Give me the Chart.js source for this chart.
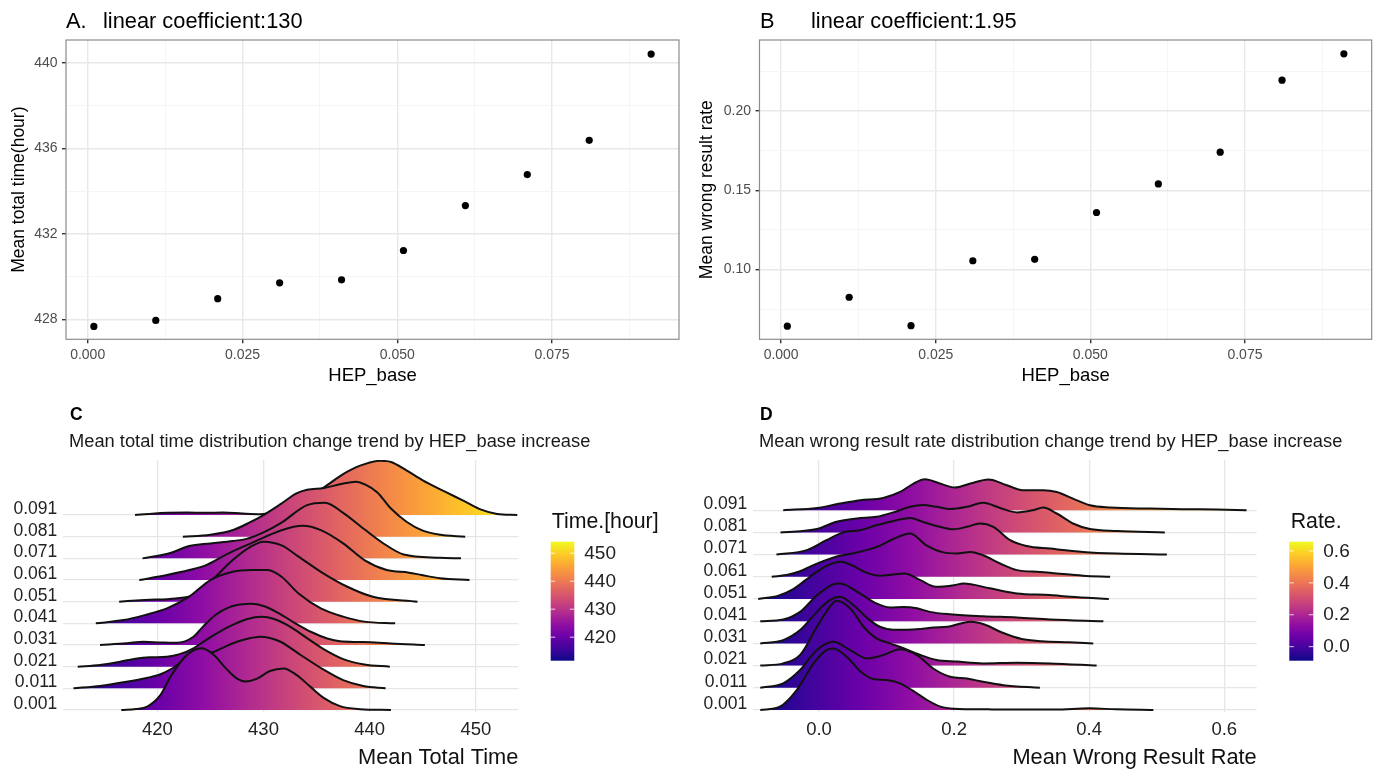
<!DOCTYPE html>
<html>
<head>
<meta charset="utf-8">
<script src="https://cdn.jsdelivr.net/npm/chart.js@4.4.1/dist/chart.umd.min.js"></script>
<style>
  body { margin: 0; background: #fff; width: 1378px; height: 774px; position: relative; overflow: hidden; font-family: "Liberation Sans", Arial, sans-serif; }
  canvas { position: absolute; }
  .t { position: absolute; white-space: nowrap; line-height: 1; color: #000; }
</style>
</head>
<body>
<canvas id="chartA" width="690" height="390" style="left:0;top:0"></canvas>
<canvas id="chartB" width="688" height="390" style="left:690px;top:0"></canvas>
<canvas id="chartC" width="690" height="384" style="left:0;top:390px"></canvas>
<canvas id="chartD" width="688" height="384" style="left:690px;top:390px"></canvas>

<div class="t" style="left:66px;top:9.5px;font-size:21.8px">A.</div>
<div class="t" style="left:103px;top:9.5px;font-size:21.8px">linear coefficient:130</div>
<div class="t" style="left:760px;top:9.5px;font-size:21.8px">B</div>
<div class="t" style="left:811px;top:9.5px;font-size:21.8px">linear coefficient:1.95</div>
<div class="t" style="left:70px;top:405.5px;font-size:17.5px;font-weight:bold">C</div>
<div class="t" style="left:69px;top:432px;font-size:18.3px;color:#1a1a1a">Mean total time distribution change trend by HEP_base increase</div>
<div class="t" style="left:760px;top:405.5px;font-size:17.5px;font-weight:bold">D</div>
<div class="t" style="left:759px;top:432px;font-size:18.3px;color:#1a1a1a">Mean wrong result rate distribution change trend by HEP_base increase</div>

<script>
// ---- data ----
const hepBase = [0.001, 0.011, 0.021, 0.031, 0.041, 0.051, 0.061, 0.071, 0.081, 0.091];
const hepLabels = ["0.001", "0.011", "0.021", "0.031", "0.041", "0.051", "0.061", "0.071", "0.081", "0.091"];
const meanTime = [427.67, 427.95, 428.97, 429.71, 429.85, 431.22, 433.32, 434.77, 436.37, 440.4];
const meanWrong = [0.0644, 0.0826, 0.0647, 0.1056, 0.1065, 0.136, 0.154, 0.174, 0.2194, 0.236];

const hepTicks = [0, 0.025, 0.05, 0.075];
const hepMinor = [0.0125, 0.0375, 0.0625, 0.0875];
const timeTicks = [428, 432, 436, 440];
const timeMinor = [430, 434, 438];
const wrongTicks = [0.10, 0.15, 0.20];
const wrongMinor = [0.075, 0.125, 0.175, 0.225];
const timeAxisTicks = [420, 430, 440, 450];
const rateAxisTicks = [0, 0.2, 0.4, 0.6];

// ridge densities: [value, height in row spacings]
const C001 = [[416.6,0],[418,0.05],[419,0.15],[420.3,0.7],[421.2,1.5],[422.5,2.4],[423.4,2.75],[424.2,2.85],[425.3,2.55],[426.5,1.9],[427.5,1.45],[428.3,1.32],[429.4,1.45],[430.6,1.8],[431.9,1.92],[433.1,1.62],[434.4,1.08],[435.7,0.55],[437.2,0.18],[439.1,0.04],[442,0]];
const C011 = [[412.1,0],[414.6,0.11],[417.1,0.3],[419,0.48],[420.3,0.65],[421.5,0.95],[422.8,1.38],[424,1.55],[425.3,1.68],[426.5,1.95],[427.5,2.15],[428.6,2.3],[429.7,2.38],[430.6,2.32],[431.6,2.15],[433.5,1.54],[435.7,0.85],[437.5,0.38],[439.4,0.11],[441.5,0]];
const C021 = [[412.5,0],[414.6,0.08],[416.5,0.23],[418.1,0.38],[419.3,0.43],[420.9,0.46],[422.1,0.58],[423.4,0.85],[424.5,1.2],[425.8,1.6],[427.2,1.95],[428.5,2.2],[429.8,2.3],[431,2.2],[432.5,1.85],[434,1.35],[435.7,0.8],[437.5,0.35],[439.5,0.1],[441.9,0]];
const C031 = [[414.6,0],[417.1,0.08],[418.7,0.15],[420.3,0.12],[421.8,0.1],[423.4,0.38],[424.3,0.85],[425.5,1.4],[426.8,1.75],[428,1.88],[428.8,1.9],[430,1.8],[431.5,1.45],[433,1.0],[434.5,0.6],[436,0.3],[437.2,0.17],[439,0.14],[440.5,0.12],[442,0.07],[445.2,0]];
const C041 = [[414.2,0],[416.8,0.15],[418.8,0.38],[420.9,0.69],[423,1.23],[425,2.0],[427.1,2.38],[428.8,2.46],[430.4,2.46],[431.7,2.15],[433.3,1.38],[435.4,0.69],[437.5,0.31],[439.5,0.08],[442.4,0]];
const C051 = [[416.4,0],[418.8,0.08],[421.7,0.15],[423.4,0.3],[425,0.92],[427.1,1.92],[428.8,2.54],[430,2.77],[431.7,2.6],[433.3,2.08],[435.4,1.38],[437.9,0.69],[440.3,0.23],[444.5,0]];
const C061 = [[418.3,0],[420.9,0.23],[423,0.46],[424.6,0.69],[426.7,1.23],[428.8,1.69],[431.7,2.3],[433.7,2.5],[435.4,2.3],[437.5,1.69],[439.5,0.92],[441.6,0.46],[443.7,0.34],[444.9,0.23],[446.6,0.08],[449.4,0]];
const C071 = [[418.6,0],[421.3,0.26],[423,0.57],[425,0.69],[427.1,0.8],[428.4,0.9],[430,1.2],[431.7,1.65],[434.1,2.46],[435.8,2.57],[437.5,2.1],[439.5,1.34],[441.2,0.72],[443.2,0.18],[446.6,0.03],[448.6,0]];
const C081 = [[422.4,0],[425,0.09],[427.2,0.32],[428.7,0.66],[430,1.0],[431.6,1.5],[433.1,2.0],[434.1,2.17],[435.7,2.25],[437.3,2.43],[438.7,2.54],[439.6,2.4],[440.7,2.05],[442,1.3],[443.5,0.68],[445,0.28],[446.5,0.1],[449,0]];
const C091 = [[417.9,0],[419.5,0.06],[421,0.1],[422.8,0.12],[424.5,0.1],[426.2,0.12],[428,0.07],[429.7,0.04],[431.5,0.25],[433.5,0.7],[435.7,1.28],[437.5,1.89],[439.1,2.28],[441,2.5],[442,2.45],[443.5,2.05],[445,1.6],[447,1.1],[449,0.62],[450.5,0.25],[452,0.05],[453.9,0]];

const D001 = [[-0.087,0],[-0.058,0.15],[-0.033,0.9],[-0.008,2.1],[0.011,2.7],[0.021,2.77],[0.041,2.4],[0.061,1.75],[0.08,1.4],[0.1,1.35],[0.12,1.2],[0.14,0.85],[0.16,0.45],[0.18,0.15],[0.2,0.06],[0.25,0.03],[0.3,0.02],[0.35,0.02],[0.4,0.075],[0.44,0.03],[0.495,0]];
const D011 = [[-0.087,0],[-0.053,0.2],[-0.028,0.8],[-0.003,1.7],[0.021,2.07],[0.046,1.7],[0.071,1.32],[0.095,1.47],[0.12,1.74],[0.145,1.47],[0.169,0.87],[0.194,0.5],[0.219,0.42],[0.243,0.27],[0.273,0.12],[0.327,0]];
const D021 = [[-0.087,0],[-0.053,0.1],[-0.028,0.48],[-0.003,1.75],[0.016,2.65],[0.026,2.92],[0.046,2.58],[0.066,1.75],[0.085,1.23],[0.105,1.0],[0.125,0.78],[0.15,0.48],[0.174,0.25],[0.204,0.18],[0.243,0.1],[0.293,0.13],[0.342,0.1],[0.411,0]];
const D031 = [[-0.087,0],[-0.053,0.15],[-0.028,0.6],[-0.003,1.42],[0.016,1.95],[0.031,2.1],[0.051,1.72],[0.071,1.15],[0.09,0.75],[0.11,0.62],[0.13,0.62],[0.15,0.65],[0.17,0.72],[0.19,0.75],[0.21,0.9],[0.225,0.97],[0.245,0.85],[0.27,0.5],[0.3,0.2],[0.33,0.1],[0.37,0.05],[0.406,0]];
const D041 = [[-0.087,0],[-0.053,0.08],[-0.028,0.42],[-0.003,1.17],[0.021,1.66],[0.031,1.7],[0.061,1.24],[0.085,0.8],[0.105,0.62],[0.125,0.64],[0.145,0.58],[0.164,0.42],[0.194,0.31],[0.243,0.22],[0.293,0.17],[0.342,0.08],[0.421,0]];
const D051 = [[-0.09,0],[-0.06,0.15],[-0.041,0.4],[-0.02,0.85],[-0.003,1.23],[0.015,1.55],[0.033,1.68],[0.05,1.5],[0.069,1.2],[0.09,1.05],[0.11,1.1],[0.127,1.15],[0.15,0.85],[0.173,0.55],[0.2,0.62],[0.214,0.7],[0.253,0.48],[0.293,0.25],[0.342,0.18],[0.372,0.1],[0.429,0]];
const D061 = [[-0.07,0],[-0.045,0.1],[-0.028,0.25],[-0.01,0.5],[0.01,0.75],[0.03,0.95],[0.05,1.05],[0.07,1.2],[0.09,1.4],[0.11,1.7],[0.135,1.95],[0.159,1.42],[0.184,1.1],[0.204,1.05],[0.224,1.12],[0.243,0.97],[0.268,0.6],[0.293,0.3],[0.327,0.22],[0.352,0.15],[0.391,0.05],[0.431,0]];
const D071 = [[-0.063,0],[-0.018,0.2],[0.011,0.65],[0.036,1.0],[0.061,1.1],[0.085,1.32],[0.115,1.55],[0.135,1.65],[0.154,1.47],[0.179,1.25],[0.199,1.14],[0.219,1.25],[0.238,1.4],[0.258,1.25],[0.283,0.65],[0.307,0.39],[0.342,0.27],[0.391,0.12],[0.441,0.045],[0.515,0]];
const D081 = [[-0.057,0],[-0.003,0.15],[0.026,0.48],[0.056,0.63],[0.085,0.7],[0.11,0.9],[0.135,1.15],[0.154,1.23],[0.174,1.15],[0.194,1.05],[0.219,1.15],[0.243,1.33],[0.268,1.1],[0.293,0.9],[0.317,1.0],[0.332,1.12],[0.352,0.85],[0.376,0.4],[0.401,0.15],[0.441,0.06],[0.512,0]];
const D091 = [[-0.053,0],[-0.003,0.1],[0.031,0.3],[0.061,0.45],[0.095,0.55],[0.12,0.82],[0.14,1.2],[0.157,1.39],[0.179,1.2],[0.201,1.02],[0.224,1.2],[0.251,1.38],[0.278,1.12],[0.302,0.9],[0.332,0.9],[0.352,0.82],[0.376,0.52],[0.401,0.22],[0.431,0.12],[0.49,0.07],[0.539,0.045],[0.589,0.03],[0.633,0]];

const plasma = ["#0d0887", "#41049d", "#6a00a8", "#8f0da4", "#b12a90", "#cc4778", "#e16462", "#f2844b", "#fca636", "#fcce25", "#f0f921"];

Chart.defaults.font.family = '"Liberation Sans", Arial, sans-serif';
Chart.defaults.animation = false;

const panelBorder = {
  id: "panelBorder",
  afterDraw(chart) {
    const { ctx, chartArea: a } = chart;
    ctx.save();
    ctx.strokeStyle = "#8c8c8c";
    ctx.lineWidth = 1.2;
    ctx.strokeRect(a.left, a.top, a.right - a.left, a.bottom - a.top);
    ctx.restore();
  }
};

function withMinor(major, minor) {
  return major.map(v => ({ value: v }))
    .concat(minor.map(v => ({ value: v, minor: true })))
    .sort((a, b) => a.value - b.value);
}

const bwGrid = {
  color: c => (c.tick && c.tick.minor ? "#f3f3f3" : "#e8e8e8"),
  lineWidth: c => (c.tick && c.tick.minor ? 0.8 : 1.4),
  tickColor: c => (c.tick && c.tick.minor ? "rgba(0,0,0,0)" : "#333"),
  tickLength: 4
};

function scatterChart(id, ys, yRange, yMajor, yMinor, yDigits, yTitle, yTitlePad, yAxisW, padRight) {
  return new Chart(document.getElementById(id), {
    type: "scatter",
    data: {
      datasets: [{
        data: hepBase.map((x, i) => ({ x, y: ys[i] })),
        pointRadius: 3.6,
        backgroundColor: "#000",
        borderWidth: 0
      }]
    },
    options: {
      responsive: false,
      layout: { padding: { top: 40, right: padRight, left: 0, bottom: 0 } },
      plugins: { legend: { display: false }, tooltip: { enabled: false } },
      scales: {
        x: {
          type: "linear", min: -0.0035, max: 0.0955,
          afterBuildTicks: s => { s.ticks = withMinor(hepTicks, hepMinor); },
          afterFit: s => { s.height = 50.7; },
          ticks: {
            autoSkip: false, maxRotation: 0, padding: 3, color: "#4d4d4d", font: { size: 14 },
            callback: (v, i, t) => (t[i].minor ? "" : v.toFixed(3))
          },
          grid: bwGrid,
          border: { display: false },
          title: { display: true, text: "HEP_base", color: "#000", font: { size: 18.5 }, padding: { top: 0, bottom: 3.2 } }
        },
        y: {
          type: "linear", min: yRange[0], max: yRange[1],
          afterBuildTicks: s => { s.ticks = withMinor(yMajor, yMinor); },
          afterFit: s => { s.width = yAxisW; },
          ticks: {
            autoSkip: false, padding: 4.5, color: "#4d4d4d", font: { size: 14 },
            callback: (v, i, t) => (t[i].minor ? "" : v.toFixed(yDigits))
          },
          grid: bwGrid,
          border: { display: false },
          title: { display: true, text: yTitle, color: "#000", font: { size: 17.5 }, padding: { top: yTitlePad, bottom: 0 } }
        }
      }
    },
    plugins: [panelBorder]
  });
}

function plasmaGradient(chart, lo, hi) {
  const xs = chart.scales.x;
  if (!xs || !chart.chartArea) return "#b12a90";
  const g = chart.ctx.createLinearGradient(xs.getPixelForValue(lo), 0, xs.getPixelForValue(hi), 0);
  plasma.forEach((c, i) => g.addColorStop(i / (plasma.length - 1), c));
  return g;
}

function colorBar(o) {
  return {
    id: "colorBar",
    afterDraw(chart) {
      const ctx = chart.ctx;
      ctx.save();
      const g = ctx.createLinearGradient(0, o.top + o.h, 0, o.top);
      plasma.forEach((c, i) => g.addColorStop(i / (plasma.length - 1), c));
      ctx.fillStyle = g;
      ctx.fillRect(o.x, o.top, o.w, o.h);
      ctx.strokeStyle = "rgba(255,255,255,0.8)";
      ctx.lineWidth = 1;
      ctx.font = '19px "Liberation Sans", Arial, sans-serif';
      ctx.textBaseline = "middle";
      ctx.textAlign = "left";
      o.ticks.forEach(v => {
        const y = o.top + o.h - (v - o.lo) / (o.hi - o.lo) * o.h;
        ctx.beginPath();
        ctx.moveTo(o.x, y); ctx.lineTo(o.x + 4.5, y);
        ctx.moveTo(o.x + o.w - 4.5, y); ctx.lineTo(o.x + o.w, y);
        ctx.stroke();
        ctx.fillStyle = "#222";
        ctx.fillText(o.fmt(v), o.labelX, y + 0.5);
      });
      ctx.font = '21.3px "Liberation Sans", Arial, sans-serif';
      ctx.fillStyle = "#111";
      ctx.fillText(o.title, o.titleX, o.titleY);
      ctx.restore();
    }
  };
}

function ridgeChart(id, ridges, xRange, yRange, xTicks, xFmt, xTitle, colRange, padRight, legend) {
  return new Chart(document.getElementById(id), {
    type: "line",
    data: {
      datasets: ridges.map((r, i) => ({
        data: r.map(p => ({ x: p[0], y: i + 1 + p[1] })),
        fill: { value: i + 1 },
        borderColor: "#111",
        borderWidth: 2,
        pointRadius: 0,
        cubicInterpolationMode: "monotone",
        backgroundColor: c => plasmaGradient(c.chart, colRange[0], colRange[1])
      }))
    },
    options: {
      responsive: false,
      layout: { padding: { top: 70, right: padRight, left: 0, bottom: 0 } },
      plugins: { legend: { display: false }, tooltip: { enabled: false } },
      scales: {
        x: {
          type: "linear", min: xRange[0], max: xRange[1],
          afterBuildTicks: s => { s.ticks = xTicks.map(v => ({ value: v })); },
          afterFit: s => { s.height = 62; },
          ticks: { autoSkip: false, maxRotation: 0, padding: 7, color: "#222", font: { size: 18.5 }, callback: v => xFmt(v) },
          grid: { color: "#e6e6e6", lineWidth: 1.3, drawTicks: false },
          border: { display: false },
          title: { display: true, text: xTitle, align: "end", color: "#111", font: { size: 21.8 }, padding: { top: 0, bottom: 2.8 } }
        },
        y: {
          type: "linear", min: yRange[0], max: yRange[1],
          afterBuildTicks: s => { s.ticks = hepLabels.map((l, i) => ({ value: i + 1 })); },
          afterFit: s => { s.width = 63.3; },
          ticks: { autoSkip: false, padding: 6, labelOffset: -6, color: "#222", font: { size: 17.5 }, callback: v => hepLabels[Math.round(v) - 1] },
          grid: { color: "#e6e6e6", lineWidth: 1.3, drawTicks: false },
          border: { display: false }
        }
      }
    },
    plugins: [colorBar(legend)]
  });
}

scatterChart("chartA", meanTime, [427.07, 441.06], timeTicks, timeMinor, 0, "Mean total time(hour)", 8.5, 66, 11);
scatterChart("chartB", meanWrong, [0.0561, 0.2447], wrongTicks, wrongMinor, 2, "Mean wrong result rate", 7, 69.5, 6.3);

ridgeChart("chartC", [C001, C011, C021, C031, C041, C051, C061, C071, C081, C091],
  [411.14, 454.0], [0.908, 12.54], timeAxisTicks, v => String(v), "Mean Total Time",
  [411.6, 454.1], 171.7,
  { x: 550.7, top: 151.7, w: 23.6, h: 119, lo: 411.6, hi: 454.1, ticks: timeAxisTicks,
    fmt: v => String(v), labelX: 584.3, title: "Time.[hour]", titleX: 551.7, titleY: 132 });

ridgeChart("chartD", [D001, D011, D021, D031, D041, D051, D061, D071, D081, D091],
  [-0.0973, 0.648], [0.91, 12.26], rateAxisTicks, v => v.toFixed(1), "Mean Wrong Result Rate",
  [-0.088, 0.658], 121.3,
  { x: 599.3, top: 151.7, w: 24, h: 119, lo: -0.088, hi: 0.658, ticks: rateAxisTicks,
    fmt: v => v.toFixed(1), labelX: 633.3, title: "Rate.", titleX: 600.7, titleY: 132 });
</script>
</body>
</html>
